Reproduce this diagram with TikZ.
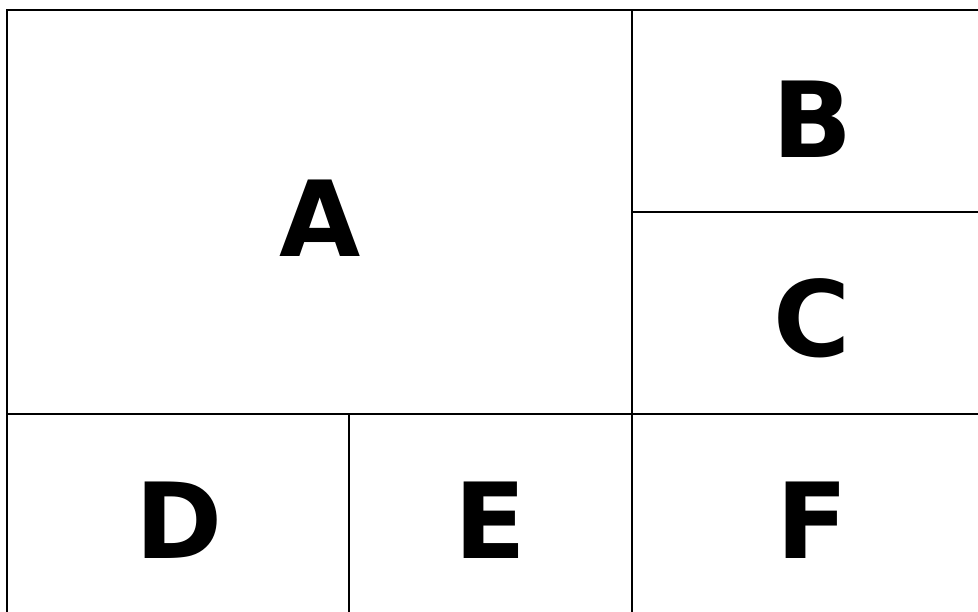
\documentclass[tikz,border=0pt]{standalone}
\usepackage{fontspec}
\setmainfont{DejaVu Sans}
\begin{document}
\begin{tikzpicture}[x=1pt,y=-1pt,
  grid/.style={line width=2pt,line cap=rect},
  lbl/.style={font=\fontsize{105}{105}\selectfont\bfseries,anchor=base,inner sep=0pt}]
\useasboundingbox (0,0) rectangle (978,612);
\begin{scope}
\clip (0,0) rectangle (978,612);
\draw[grid] (7,10) -- (978,10);
\draw[grid] (7,10) -- (7,612);
\draw[grid] (632,10) -- (632,612);
\draw[grid] (7,414) -- (978,414);
\draw[grid] (632,212) -- (978,212);
\draw[grid] (349,414) -- (349,612);
\end{scope}
\node[lbl] (a) at (320,257) {A};
\node[lbl] (b) at (813,158) {B};
\node[lbl] (c) at (812,357) {C};
\node[lbl] (d) at (179,558) {D};
\node[lbl] (e) at (490,558) {E};
\node[lbl] (f) at (812,558) {F};
\end{tikzpicture}
\end{document}
